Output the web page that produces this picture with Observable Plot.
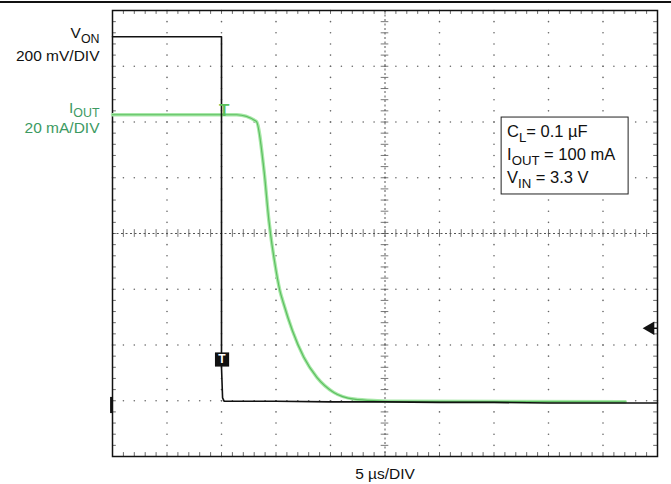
<!DOCTYPE html>
<html><head><meta charset="utf-8">
<script src="https://cdn.jsdelivr.net/npm/d3@7"></script>
<script src="https://cdn.jsdelivr.net/npm/@observablehq/plot@0.6"></script>
<style>
body{margin:0;background:#fff;}
#chart svg{display:block;}
</style>
</head><body><div id="chart"></div>
<script>
// Horizontal: divisions (5 µs/DIV), vertical: divisions
const vonTime  = [0, 2.0, 2.0, 2.02, 2.05, 3, 4, 5, 6, 7, 8, 9, 10];
const vonLevel = [7.53, 7.53, 1.6, 1.05, 0.99, 0.99, 0.98, 0.98, 0.97, 0.97, 0.96, 0.96, 0.96];
const ioutTime  = [0, 2.28, 2.64, 2.78, 2.87, 2.90, 2.97, 3.07, 3.14, 3.30, 3.51, 3.75, 4.06, 4.43, 4.86, 5.28, 9.41];
const ioutLevel = [6.13, 6.13, 6.01, 5.13, 4.23, 3.99, 3.52, 2.98, 2.74, 2.26, 1.78, 1.42, 1.15, 1.03, 1.00, 0.99, 0.98];

const channelLabels = ["V_{ON}", "200 mV/DIV", "I_{OUT}", "20 mA/DIV"];
const channelLabelY = [7.50, 7.10, 6.17, 5.81];
const channelColors = ["#111", "#111", "#3c9a62", "#3c9a62"];
const conditions = ["C_{L}= 0.1 µF", "I_{OUT} = 100 mA", "V_{IN} = 3.3 V"];
const conditionY = [5.73, 5.31, 4.90];
const xCaption = "5 µs/DIV";
const xDivs = 10, yDivs = 8;

const von = vonTime.map((t, i) => ({t, v: vonLevel[i]}));
const iout = ioutTime.map((t, i) => ({t, v: ioutLevel[i]}));

// graticule
const minor = d3.range(0, xDivs * 5 + 1).map(i => i / 5);
const minorY = d3.range(0, yDivs * 5 + 1).map(i => i / 5);
const vDots = [], hDots = [];
for (let k = 1; k < xDivs; k++) if (k !== 5) for (const y of minorY) vDots.push({x: k, y});
for (let k = 1; k < yDivs; k++) if (k !== 4) for (const x of minor) hDots.push({x, y: k});

const plot = Plot.plot({
  width: 671, height: 484,
  marginLeft: 112, marginRight: 14, marginTop: 10, marginBottom: 28,
  x: {domain: [0, xDivs], axis: null},
  y: {domain: [0, yDivs], axis: null},
  style: {fontFamily: "'Liberation Sans', Arial, sans-serif", fontSize: "15px", background: "#fff", overflow: "visible"},
  marks: [
    Plot.dot(vDots, {x: "x", y: "y", r: 0.8, fill: "#666", stroke: null}),
    Plot.dot(hDots, {x: "x", y: "y", r: 0.8, fill: "#666", stroke: null}),
    Plot.ruleX([5], {stroke: "#555", strokeDasharray: "2,2.5", strokeWidth: 1}),
    Plot.ruleY([4], {stroke: "#555", strokeDasharray: "2,2.5", strokeWidth: 1}),
    Plot.ruleY(minorY, {y: d => d, x1: 4.93, x2: 5.07, stroke: "#555", strokeWidth: 0.8}),
    Plot.ruleX(minor, {x: d => d, y1: 3.93, y2: 4.07, stroke: "#555", strokeWidth: 0.8}),
    // edge ticks
    Plot.ruleX(minor, {x: d => d, y1: yDivs, y2: yDivs - 0.07, stroke: "#444", strokeWidth: 0.8}),
    Plot.ruleX(minor, {x: d => d, y1: 0, y2: 0.07, stroke: "#444", strokeWidth: 0.8}),
    Plot.ruleY(minorY, {y: d => d, x1: 0, x2: 0.07, stroke: "#444", strokeWidth: 0.8}),
    Plot.ruleY(minorY, {y: d => d, x1: xDivs, x2: xDivs - 0.07, stroke: "#444", strokeWidth: 0.8}),
    Plot.frame({stroke: "#111", strokeWidth: 1.5}),
    // condition box
    Plot.rect([0], {x1: 7.14, x2: 9.47, y1: 4.70, y2: 6.08, fill: "#fff", stroke: "#222", strokeWidth: 1}),
    Plot.text(conditions, {x: 7.24, y: (d, i) => conditionY[i], text: d => d, textAnchor: "start", lineAnchor: "bottom", fontSize: 16.5, fill: "#111"}),
    // traces
    Plot.line(iout, {x: "t", y: "v", stroke: "#a8e8a8", strokeWidth: 3.5, curve: "monotone-x"}),
    Plot.line(iout, {x: "t", y: "v", stroke: "#5cbf60", strokeWidth: 1.2, curve: "monotone-x"}),
    Plot.line(von, {x: "t", y: "v", stroke: "#111", strokeWidth: 1.6}),
    // markers
    Plot.text(["T"], {x: 2.05, y: 6.2, text: d => d, fill: "#5cc05c", fontSize: 17, fontWeight: "bold"}),
    Plot.dot([0], {x: 2.01, y: 1.74, symbol: "square", r: 8, fill: "#111", stroke: null}),
    Plot.text(["T"], {x: 2.01, y: 1.74, text: d => d, fill: "#fff", fontSize: 12, fontWeight: "bold"}),
    Plot.rect([0], {x1: -0.035, x2: 0.01, y1: 0.77, y2: 1.06, fill: "#111"}),
    Plot.dot([0], {x: 9.87, y: 2.30, symbol: "triangle", rotate: -90, r: 5, fill: "#111", stroke: null}),
    Plot.ruleY([2.30], {x1: 9.87, x2: 10, stroke: "#111", strokeWidth: 1.5}),
    // labels
    Plot.text(channelLabels, {x: 0, y: (d, i) => channelLabelY[i], text: d => d, dx: -13, textAnchor: "end", lineAnchor: "bottom", fontSize: 15.5, fill: (d, i) => channelColors[i]}),
    Plot.text([xCaption], {x: 5, frameAnchor: "bottom", dy: 22, text: d => d, lineAnchor: "bottom", fontSize: 15.5, fill: "#111"})
  ]
});
document.getElementById("chart").appendChild(plot);

// top rule
d3.select(plot).append("line").attr("x1", 0).attr("x2", 671).attr("y1", 2).attr("y2", 2).attr("stroke", "#111").attr("stroke-width", 2);

// subscripts
const ns = "http://www.w3.org/2000/svg";
d3.select(plot).selectAll("text").each(function() {
  const t = this;
  if (t.querySelector("tspan")) return;
  const s = t.textContent;
  if (!s.includes("_{")) return;
  const fs = parseFloat(getComputedStyle(t).fontSize) || 15;
  t.textContent = "";
  let shifted = false;
  for (const p of s.split(/(_\{[^}]*\})/)) {
    if (!p) continue;
    const ts = document.createElementNS(ns, "tspan");
    if (p.startsWith("_{")) {
      ts.textContent = p.slice(2, -1);
      ts.setAttribute("font-size", (fs * 0.8).toFixed(1));
      ts.setAttribute("dy", (fs * 0.3).toFixed(1));
      shifted = true;
    } else {
      ts.textContent = p;
      if (shifted) { ts.setAttribute("dy", (-fs * 0.3).toFixed(1)); shifted = false; }
    }
    t.appendChild(ts);
  }
});
</script>
</body></html>
